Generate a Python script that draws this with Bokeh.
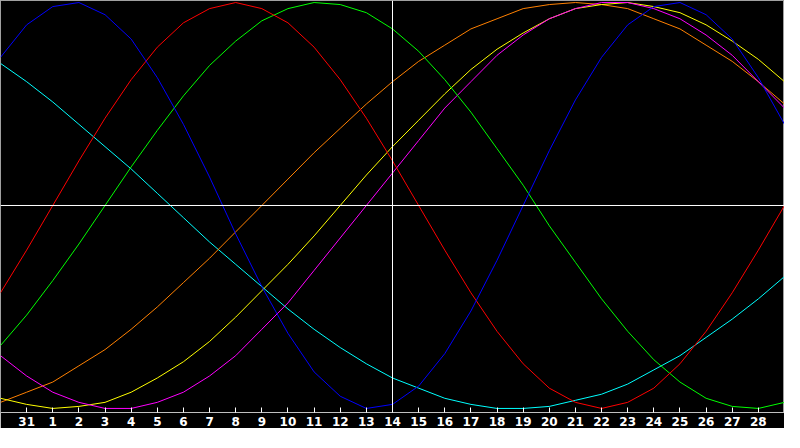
from bokeh.plotting import figure
from bokeh.models import Span, FixedTicker
from bokeh.embed import file_html
from bokeh.resources import INLINE

# day positions (one sample per day, from the day before "31" to the day after "28")
days = list(range(-1, 30))
day_labels = ["31"] + [str(d) for d in range(1, 29)]

# cycle values in percent
physical = [73, 89, 98, 100, 94, 82, 63, 40, 14, -14, -40, -63, -82, -94, -100, -98,
            -89, -73, -52, -27, 0, 27, 52, 73, 89, 98, 100, 94, 82, 63, 40]
emotional = [-43, -22, 0, 22, 43, 62, 78, 90, 97, 100, 97, 90, 78, 62, 43, 22,
             0, -22, -43, -62, -78, -90, -97, -100, -97, -90, -78, -62, -43, -22, 0]
intellectual = [-69, -54, -37, -19, 0, 19, 37, 54, 69, 81, 91, 97, 100, 99, 95, 87,
                76, 62, 46, 28, 10, -10, -28, -46, -62, -76, -87, -95, -99, -100, -97]
spiritual = [70, 61, 51, 40, 29, 18, 6, -6, -18, -29, -40, -51, -61, -70, -78, -85,
             -90, -95, -98, -100, -100, -99, -96, -93, -88, -81, -74, -65, -56, -46, -35]
awareness = [-97, -92, -87, -79, -71, -61, -50, -38, -26, -13, 0, 13, 26, 38, 50, 61,
             71, 79, 87, 92, 97, 99, 100, 99, 97, 92, 87, 79, 71, 61, 50]
aesthetic = [-95, -98, -100, -99, -97, -92, -85, -77, -67, -55, -42, -29, -15, 0, 15, 29,
             42, 55, 67, 77, 85, 92, 97, 99, 100, 98, 95, 89, 81, 72, 61]
intuitive = [-74, -84, -92, -97, -100, -100, -97, -92, -84, -74, -61, -48, -32, -16, 0, 16,
             32, 48, 61, 74, 84, 92, 97, 100, 100, 97, 92, 84, 74, 61, 48]

p = figure(frame_width=784, frame_height=412, x_range=(-1, 29), y_range=(-102, 101),
           output_backend="svg", toolbar_location=None,
           min_border_left=0, min_border_right=0, min_border_top=0, min_border_bottom=0)
p.background_fill_color = "black"
p.border_fill_color = "black"
p.outline_line_color = "#a0a0a0"
p.grid.visible = False
p.yaxis.visible = False

ax = p.xaxis[0]
ax.ticker = FixedTicker(ticks=list(range(len(day_labels))))
ax.major_label_overrides = {i: lab for i, lab in enumerate(day_labels)}
ax.axis_line_color = "#c0c0c0"
ax.major_tick_line_color = "white"
ax.major_tick_in = 5
ax.major_tick_out = 0
ax.minor_tick_line_color = None
ax.major_label_text_color = "white"
ax.major_label_text_font = "DejaVu Sans"
ax.major_label_text_font_style = "bold"
ax.major_label_text_font_size = "12px"
ax.major_label_standoff = 4

p.add_layout(Span(location=14, dimension="height", line_color="white", line_width=1))
p.add_layout(Span(location=0, dimension="width", line_color="white", line_width=1))

p.line(days, spiritual, line_color="#00ffff", line_width=1)
p.line(days, awareness, line_color="#ff8000", line_width=1)
p.line(days, aesthetic, line_color="#ffff00", line_width=1)
p.line(days, intuitive, line_color="#ff00ff", line_width=1)
p.line(days, intellectual, line_color="#00ff00", line_width=1)
p.line(days, emotional, line_color="#ff0000", line_width=1)
p.line(days, physical, line_color="#0000ff", line_width=1)

open("out.html", "w").write(file_html(p, INLINE))
